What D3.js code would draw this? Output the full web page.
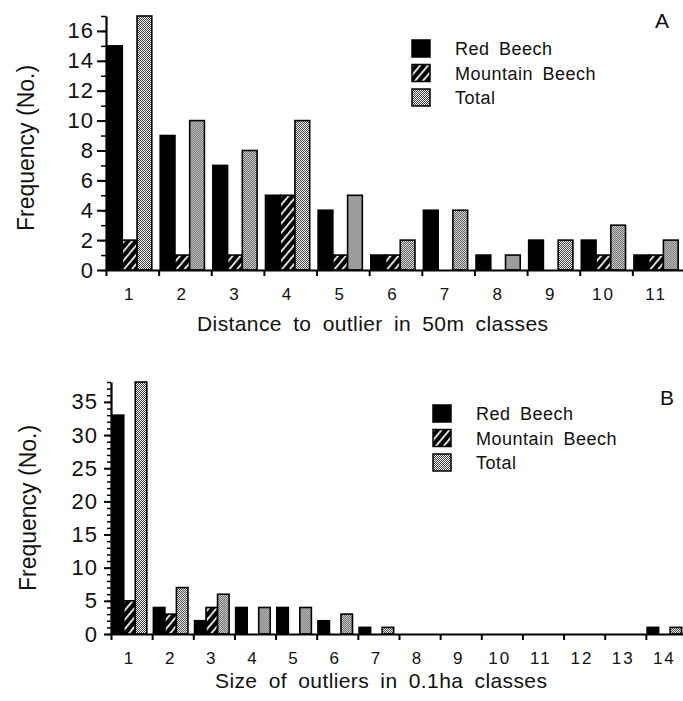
<!DOCTYPE html>
<html>
<head>
<meta charset="utf-8">
<script src="https://cdn.jsdelivr.net/npm/d3@7"></script>
<style>
  body { margin: 0; background: #fff; }
  text { font-family: 'Liberation Sans', Arial, Helvetica, sans-serif; fill: #111; }
</style>
</head>
<body>
<div id="chart"></div>
<script>
// series names used by both panels
var seriesNames = ['Red Beech', 'Mountain Beech', 'Total']

// panel A: distance to outlier in 50m classes
var distClasses = ['1', '2', '3', '4', '5', '6', '7', '8', '9', '10', '11']
var distRed = [15, 9, 7, 5, 4, 1, 4, 1, 2, 2, 1]
var distMountain = [2, 1, 1, 5, 1, 1, 0, 0, 0, 1, 1]
var distTotal = [17, 10, 8, 10, 5, 2, 4, 1, 2, 3, 2]
var distTicks = [0, 2, 4, 6, 8, 10, 12, 14, 16]

// panel B: size of outliers in 0.1ha classes
var sizeClasses = ['1', '2', '3', '4', '5', '6', '7', '8', '9', '10', '11', '12', '13', '14']
var sizeRed = [33, 4, 2, 4, 4, 2, 1, 0, 0, 0, 0, 0, 0, 1]
var sizeMountain = [5, 3, 4, 0, 0, 0, 0, 0, 0, 0, 0, 0, 0, 0]
var sizeTotal = [38, 7, 6, 4, 4, 3, 1, 0, 0, 0, 0, 0, 0, 1]
var sizeTicks = [0, 5, 10, 15, 20, 25, 30, 35]

var svg = d3
  .select('#chart')
  .append('svg')
  .attr('width', 683)
  .attr('height', 701)

var defs = svg.append('defs')

// hatched fill for mountain beech (white stripes on black)
var hatch = defs
  .append('pattern')
  .attr('id', 'hatch')
  .attr('patternUnits', 'userSpaceOnUse')
  .attr('width', 6)
  .attr('height', 6)
  .attr('patternTransform', 'rotate(40)')
hatch.append('rect').attr('width', 6).attr('height', 6).attr('fill', '#000')
hatch.append('rect').attr('x', 0).attr('width', 1.7).attr('height', 6).attr('fill', '#fff')

// fine dotted grey fill for total
var dots = defs
  .append('pattern')
  .attr('id', 'dots')
  .attr('patternUnits', 'userSpaceOnUse')
  .attr('width', 2)
  .attr('height', 2)
dots.append('rect').attr('width', 2).attr('height', 2).attr('fill', '#fff')
dots.append('rect').attr('width', 1).attr('height', 1).attr('fill', '#3a3a3a')
dots.append('rect').attr('x', 1).attr('y', 1).attr('width', 1).attr('height', 1).attr('fill', '#3a3a3a')

var fills = ['#000', 'url(#hatch)', 'url(#dots)']

function drawPanel(p) {
  var n = p.classes.length
  var g = svg.append('g')

  var xBand = d3
    .scaleBand()
    .domain(p.classes)
    .range([p.x0, p.x1])
    .paddingInner(0)
    .paddingOuter(0)
  var bw = xBand.bandwidth()

  var xSub = d3
    .scaleBand()
    .domain(seriesNames)
    .range([bw * 0.03, bw * 0.87])
    .padding(0)

  var yScale = d3
    .scaleLinear()
    .domain([0, p.yMax])
    .range([p.y0, p.y1])

  var rows = p.classes.map(function(c, i) {
    return { cls: c, values: [p.red[i], p.mountain[i], p.total[i]] }
  })

  // bars
  var groups = g
    .selectAll('.grp')
    .data(rows)
    .enter()
    .append('g')
    .attr('transform', function(d) {
      return 'translate(' + xBand(d.cls) + ',0)'
    })

  groups
    .selectAll('rect')
    .data(function(d) {
      return d.values.map(function(v, k) {
        return { name: seriesNames[k], value: v, k: k }
      }).filter(function(e) {
        return e.value > 0
      })
    })
    .enter()
    .append('rect')
    .attr('x', function(d) {
      return xSub(d.name)
    })
    .attr('width', xSub.bandwidth())
    .attr('y', function(d) {
      return yScale(d.value)
    })
    .attr('height', function(d) {
      return yScale(0) - yScale(d.value)
    })
    .attr('fill', function(d) {
      return fills[d.k]
    })
    .attr('stroke', '#000')
    .attr('stroke-width', 1.6)

  // x axis: ticks on class boundaries
  var xEdges = d3.scaleLinear().domain([0, n]).range([p.x0, p.x1])
  var xAxis = d3
    .axisBottom(xEdges)
    .tickValues(d3.range(0, n + 1))
    .tickSize(6)
    .tickSizeOuter(0)
    .tickFormat('')
  var xg = g
    .append('g')
    .attr('transform', 'translate(0,' + p.y0 + ')')
    .call(xAxis)
  xg.select('.domain').attr('stroke-width', 2.2).attr('stroke', '#000')
  xg.selectAll('.tick line').attr('stroke-width', 2).attr('stroke', '#000')

  g.selectAll('.xlab')
    .data(p.classes)
    .enter()
    .append('text')
    .attr('x', function(d) {
      return xBand(d) + bw * 0.45
    })
    .attr('y', p.y0 + 30)
    .attr('text-anchor', 'middle')
    .attr('font-size', 17)
    .attr('letter-spacing', 2)
    .text(function(d) {
      return d
    })

  // y axis: minor ticks every unit, labelled major ticks
  var yMinor = d3
    .axisLeft(yScale)
    .tickValues(d3.range(0, p.yMax + 1))
    .tickSize(p.minorLen)
    .tickSizeOuter(0)
    .tickFormat('')
  var ymg = g
    .append('g')
    .attr('transform', 'translate(' + p.x0 + ',0)')
    .call(yMinor)
  ymg.select('.domain').attr('stroke-width', 2.2).attr('stroke', '#000')
  ymg.selectAll('.tick line').attr('stroke-width', 1.5).attr('stroke', '#000')

  var yMajor = d3
    .axisLeft(yScale)
    .tickValues(p.ticks)
    .tickSize(p.majorLen)
    .tickPadding(p.labelPad)
  var yMg = g
    .append('g')
    .attr('transform', 'translate(' + p.x0 + ',0)')
    .call(yMajor)
  yMg.select('.domain').remove()
  yMg.selectAll('.tick line').attr('stroke-width', 2).attr('stroke', '#000')
  yMg
    .selectAll('.tick text')
    .attr('font-size', 22)
    .attr('font-family', "'Liberation Sans', Arial, sans-serif")
    .attr('fill', '#111')
    .attr('letter-spacing', 1)

  // axis titles
  g.append('text')
    .attr('transform', 'translate(' + p.yTitleX + ',' + p.yTitleY + ') rotate(-90)')
    .attr('text-anchor', 'middle')
    .attr('font-size', 23)
    .text('Frequency (No.)')

  g.append('text')
    .attr('x', p.xTitleX)
    .attr('y', p.xTitleY)
    .attr('font-size', 21)
    .attr('word-spacing', 5)
    .attr('letter-spacing', 0.4)
    .text(p.xTitle)

  // panel letter
  g.append('text')
    .attr('x', p.letterX)
    .attr('y', p.letterY)
    .attr('font-size', 21)
    .text(p.letter)

  // legend
  var leg = g
    .selectAll('.leg')
    .data(seriesNames)
    .enter()
    .append('g')
    .attr('transform', function(d, i) {
      return 'translate(' + p.legX + ',' + (p.legY + i * p.legStep) + ')'
    })
  leg
    .append('rect')
    .attr('width', 18)
    .attr('height', 17)
    .attr('fill', function(d, i) {
      return fills[i]
    })
    .attr('stroke', '#000')
    .attr('stroke-width', 1.5)
  leg
    .append('text')
    .attr('x', 43)
    .attr('y', 15)
    .attr('font-size', 18)
    .attr('word-spacing', 4)
    .attr('letter-spacing', 0.5)
    .text(function(d) {
      return d
    })
}

drawPanel({
  classes: distClasses,
  red: distRed,
  mountain: distMountain,
  total: distTotal,
  ticks: distTicks,
  yMax: 17,
  x0: 106,
  x1: 685,
  y0: 270,
  y1: 16,
  minorLen: 5,
  majorLen: 9,
  labelPad: 3,
  yTitleX: 34,
  yTitleY: 148,
  xTitle: 'Distance to outlier in 50m classes',
  xTitleX: 197,
  xTitleY: 331,
  letter: 'A',
  letterX: 655,
  letterY: 28,
  legX: 412,
  legY: 40,
  legStep: 24.5
})

drawPanel({
  classes: sizeClasses,
  red: sizeRed,
  mountain: sizeMountain,
  total: sizeTotal,
  ticks: sizeTicks,
  yMax: 38,
  x0: 111,
  x1: 687,
  y0: 634,
  y1: 382,
  minorLen: 4,
  majorLen: 7,
  labelPad: 6,
  yTitleX: 36,
  yTitleY: 508,
  xTitle: 'Size of outliers in 0.1ha classes',
  xTitleX: 215,
  xTitleY: 688,
  letter: 'B',
  letterX: 660,
  letterY: 405,
  legX: 433,
  legY: 405,
  legStep: 24.5
})
</script>
</body>
</html>
